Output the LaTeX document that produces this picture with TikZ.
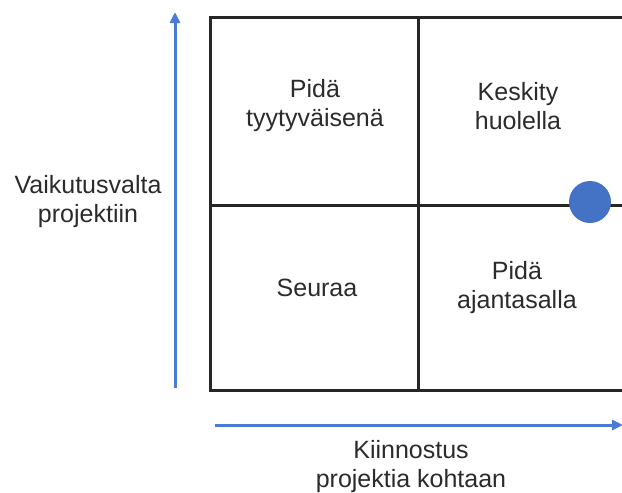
\documentclass[tikz,border=0pt]{standalone}
\usepackage{fontspec}
\setmainfont{Liberation Sans}
\usetikzlibrary{arrows.meta}
\definecolor{axisblue}{HTML}{4A7BD6}
\definecolor{dotblue}{HTML}{4472C4}
\definecolor{textgray}{HTML}{2B2B2B}
\begin{document}
\begin{tikzpicture}[x=1pt,y=-1pt,
  lbl/.style={align=center,text=textgray,font=\fontsize{25}{29}\selectfont},
  axis/.style={-{Triangle[length=11pt,width=10pt]},axisblue,line width=3pt},
  grid/.style={line width=3pt,black!85}]

\useasboundingbox (0,0) rectangle (622,493);

\coordinate (TL) at (210,17);
\coordinate (BR) at (628,390);
\coordinate (MT) at (418,17);
\coordinate (MB) at (418,390);
\coordinate (ML) at (210,205);
\coordinate (MR) at (628,205);

\draw[grid] (TL) rectangle (BR);
\draw[grid] (MT)--(MB);
\draw[grid] (ML)--(MR);

\coordinate (Ylo) at (175,388);
\coordinate (Yhi) at (175,12);
\coordinate (Xlo) at (215,425);
\coordinate (Xhi) at (623,425);

\draw[axis] (Ylo)--(Yhi);
\draw[axis] (Xlo)--(Xhi);

\fill[dotblue] (590,202) circle (21) node (dot) {};

\node[lbl] (pida) at (315,106) {Pidä\\tyytyväisenä};
\node[lbl] (keskity) at (518,106) {Keskity\\huolella};
\node[lbl] (seuraa) at (317,288) {Seuraa};
\node[lbl] (ajan) at (517,288) {Pidä\\ajantasalla};
\node[lbl] (vaikutus) at (88,202) {Vaikutusvalta\\projektiin};
\node[lbl] (kiinnostus) at (411,467) {Kiinnostus\\projektia kohtaan};

\end{tikzpicture}
\end{document}
